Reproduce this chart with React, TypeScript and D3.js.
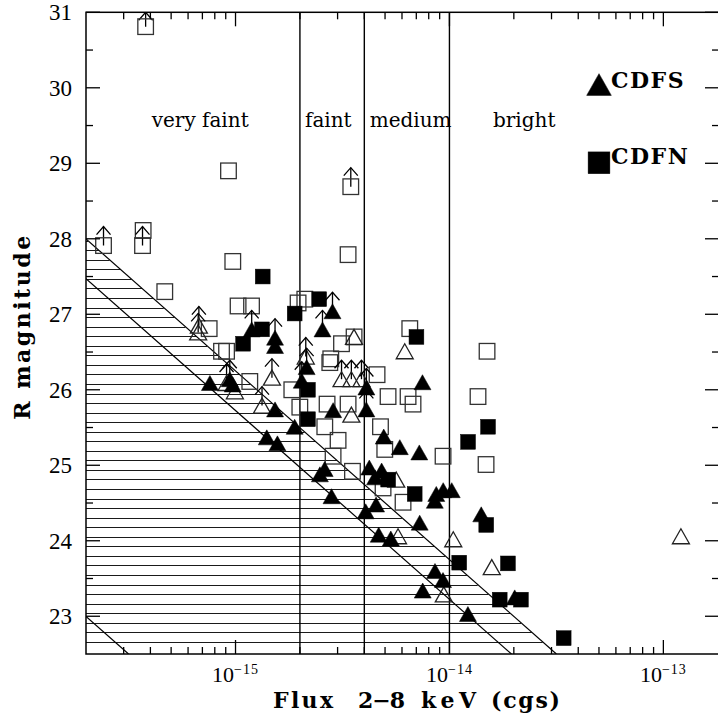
import React from 'react';
import * as d3 from 'd3';

const WIDTH = 718;
const HEIGHT = 723;

// Flux (2-8 keV) in units of 1e-15 erg cm^-2 s^-1, R magnitude, 1 = upper limit on optical flux (arrow)
const cdfsFilled: number[][] = [
  [1.19, 26.80, 1], [1.53, 26.69, 1], [1.53, 26.58, 0], [2.84, 27.04, 1], [2.55, 26.80, 1],
  [2.15, 26.30, 1], [2.04, 26.12, 1], [0.759, 26.09, 0], [0.94, 26.14, 1], [0.97, 26.07, 0],
  [1.53, 25.74, 0], [1.89, 25.51, 0], [1.40, 25.37, 0], [1.57, 25.29, 0], [2.86, 25.73, 0],
  [4.09, 26.03, 1], [4.09, 25.74, 1], [7.48, 26.10, 0], [4.93, 25.38, 0], [5.86, 25.24, 0],
  [7.23, 25.17, 0], [2.61, 24.95, 0], [2.48, 24.88, 0], [2.81, 24.59, 0], [4.22, 24.97, 0],
  [4.82, 24.93, 0], [4.49, 24.84, 0], [4.06, 24.39, 0], [4.54, 24.48, 0], [8.68, 24.62, 0],
  [9.35, 24.67, 0], [10.25, 24.67, 0], [8.54, 24.53, 0], [7.26, 24.24, 0], [4.67, 24.08, 0],
  [5.32, 24.03, 0], [14.08, 24.35, 0], [8.56, 23.60, 0], [9.33, 23.48, 0], [7.50, 23.34, 0],
  [20.19, 23.25, 0], [12.20, 23.03, 0],
];

const cdfsOpen: number[][] = [
  [0.669, 26.76, 1], [0.674, 26.85, 1], [0.908, 26.09, 1], [0.993, 25.98, 0], [1.48, 26.16, 1],
  [1.33, 25.79, 1], [3.58, 26.70, 0], [3.13, 26.14, 1], [3.48, 26.14, 1], [3.88, 26.14, 1],
  [3.48, 25.67, 0], [6.18, 26.51, 0], [5.64, 24.81, 0], [5.75, 24.06, 0], [10.42, 24.02, 0],
  [15.77, 23.65, 0], [9.41, 23.29, 0], [120.8, 24.06, 0], [2.13, 26.44, 1],
];

const cdfnFilled: number[][] = [
  [1.34, 27.50, 0], [1.89, 27.01, 0], [2.46, 27.20, 0], [1.33, 26.80, 0], [1.085, 26.61, 0],
  [2.18, 26.00, 0], [2.18, 25.61, 0], [7.01, 26.70, 0], [5.17, 24.81, 0], [6.88, 24.62, 0],
  [15.15, 25.51, 0], [12.22, 25.31, 0], [14.86, 24.21, 0], [11.11, 23.71, 0], [18.77, 23.70, 0],
  [17.18, 23.22, 0], [21.58, 23.22, 0], [34.2, 22.71, 0],
];

const cdfnOpen: number[][] = [
  [0.380, 30.81, 1], [0.927, 28.90, 0], [0.2415, 27.91, 1], [0.370, 28.11, 0], [0.3675, 27.91, 1],
  [0.467, 27.30, 0], [0.971, 27.70, 0], [1.028, 27.11, 0], [1.188, 27.11, 0], [0.753, 26.81, 0],
  [0.860, 26.51, 0], [0.908, 26.51, 0], [1.961, 27.15, 0], [2.108, 27.20, 0], [3.359, 27.79, 0],
  [3.458, 28.69, 1], [3.129, 26.61, 0], [3.583, 26.70, 0], [2.788, 26.41, 0], [6.525, 26.81, 0],
  [1.166, 26.11, 0], [1.833, 26.00, 0], [1.998, 25.77, 0], [2.759, 26.36, 0], [4.588, 26.20, 0],
  [2.679, 25.81, 0], [3.359, 25.81, 0], [5.165, 25.91, 0], [6.406, 25.91, 0], [6.757, 25.81, 0],
  [2.614, 25.51, 0], [3.016, 25.33, 0], [2.858, 25.12, 0], [4.760, 25.51, 0], [4.985, 25.21, 0],
  [3.521, 24.92, 0], [4.894, 24.70, 0], [6.069, 24.51, 0], [9.335, 25.12, 0], [14.99, 26.51, 0],
  [13.60, 25.91, 0], [14.83, 25.01, 0],
];

// flux class boundaries (1e-15 cgs)
const classBounds = [2, 4, 10];
const classLabels = ['very faint', 'faint', 'medium', 'bright'];
const classLabelX = [151.7, 305, 369.7, 493];
// log(fx/fo) lines
const ratioLines = [1, 0.79, -1];
const xTickExps = [-15, -14, -13];
const yTicks = [23, 24, 25, 26, 27, 28, 29, 30, 31];
const legendNames = ['CDFS', 'CDFN'];
const xTitleWords = ['Flux', '2−8', 'keV', '(cgs)'];
const xTitleSpans = [[273, 60], [358, 47], [421, 55], [491, 69]];

const x = d3.scaleLog().domain([0.2, 182]).range([86, 719]);
const y = d3.scaleLinear().domain([22.5, 31]).range([654, 12.3]);

const L = 86, R = 719, T = 12.3, B = 654;
const rOfLine = (ratio: number, f: number) => 2.5 * (ratio + 9.5) - 2.5 * Math.log10(f);
const fOfLine = (ratio: number, r: number) => Math.pow(10, (2.5 * (ratio + 9.5) - r) / 2.5);

function Arrow({ cx, cy }: { cx: number; cy: number }) {
  const top = Math.max(T, cy - 19);
  return (
    <g stroke="#000" strokeWidth={1.3} fill="none">
      <line x1={cx} y1={cy} x2={cx} y2={top} />
      <polyline points={`${cx - 7},${top + 8} ${cx},${top} ${cx + 7},${top + 8}`} />
    </g>
  );
}

function Tri({ cx, cy, filled, s = 1 }: { cx: number; cy: number; filled: boolean; s?: number }) {
  const hw = 8.5 * s, hh = 7.5 * s;
  return (
    <polygon
      points={`${cx},${cy - hh} ${cx - hw},${cy + hh} ${cx + hw},${cy + hh}`}
      fill={filled ? '#000' : 'none'}
      stroke={filled ? '#000' : '#222'}
      strokeWidth={filled ? 0.5 : 1.3}
    />
  );
}

function Sq({ cx, cy, filled, s = 1 }: { cx: number; cy: number; filled: boolean; s?: number }) {
  const h = (filled ? 7.4 : 7.8) * s;
  return (
    <rect x={cx - h} y={cy - h} width={2 * h} height={2 * h}
      fill={filled ? '#000' : 'none'} stroke={filled ? '#000' : '#333'} strokeWidth={filled ? 0.5 : 1.3} />
  );
}

export default function App() {
  const hatchR: number[] = [];
  for (let k = 0; k <= 42; k++) hatchR.push(22.661 + k * 0.1265);

  const minorX: number[] = [];
  [0.1, 1, 10, 100].forEach((d) => {
    for (let m = 2; m <= 9; m++) {
      const v = d * m;
      if (v > 0.2 && v < 182) minorX.push(v);
    }
  });
  const minorY = d3.range(23.5, 31, 1);

  const serif = 'DejaVu Serif';
  const numFont = 'Liberation Serif';

  const renderSet = (data: number[][], kind: 'tri' | 'sq', filled: boolean, key: string) =>
    data.map((d, i) => {
      const cx = x(d[0]);
      const cy = y(d[1]);
      return (
        <g key={`${key}${i}`}>
          {d[2] ? <Arrow cx={cx} cy={cy} /> : null}
          {kind === 'tri' ? <Tri cx={cx} cy={cy} filled={filled} /> : <Sq cx={cx} cy={cy} filled={filled} />}
        </g>
      );
    });

  return (
    <svg width={WIDTH} height={HEIGHT} style={{ position: 'absolute', left: 0, top: 0, background: '#fff' }}>
      <rect x={0} y={0} width={WIDTH} height={HEIGHT} fill="#fff" />
      <defs>
        <clipPath id="plot">
          <rect x={L} y={T} width={R - L} height={B - T} />
        </clipPath>
      </defs>
      {/* hatching */}
      <g stroke="#1a1a1a" strokeWidth={1}>
        {hatchR.map((r, i) => (
          <line key={i} x1={L} x2={x(fOfLine(ratioLines[0], r))} y1={Math.round(y(r)) + 0.5} y2={Math.round(y(r)) + 0.5} />
        ))}
      </g>
      {/* diagonal lines */}
      <g stroke="#000" strokeWidth={1.2} clipPath="url(#plot)">
        {ratioLines.map((rl, i) => (
          <line key={i} x1={x(0.2)} y1={y(rOfLine(rl, 0.2))} x2={x(fOfLine(rl, 22.5))} y2={y(22.5)} />
        ))}
      </g>
      {/* class boundaries */}
      <g stroke="#000" strokeWidth={1.4}>
        {classBounds.map((b, i) => (
          <line key={i} x1={x(b)} x2={x(b)} y1={T} y2={B} />
        ))}
      </g>
      {/* class labels */}
      <g fontFamily={serif} fontSize={20} fill="#000">
        {classLabels.map((t, i) => (
          <text key={i} x={classLabelX[i]} y={126.5}>{t}</text>
        ))}
      </g>
      {/* data */}
      <g clipPath="url(#plot)">
        {renderSet(cdfnOpen, 'sq', false, 'no')}
        {renderSet(cdfsOpen, 'tri', false, 'so')}
        {renderSet(cdfnFilled, 'sq', true, 'nf')}
        {renderSet(cdfsFilled, 'tri', true, 'sf')}
      </g>
      {/* legend */}
      <Tri cx={599} cy={84.5} filled={true} s={1.45} />
      <Sq cx={599} cy={162.8} filled={true} s={1.47} />
      <g fontFamily={serif} fontSize={22} fontWeight="bold" letterSpacing={1.5}>
        <text x={611} y={88.3}>{legendNames[0]}</text>
        <text x={611} y={164}>{legendNames[1]}</text>
      </g>
      {/* frame */}
      <rect x={L} y={T} width={R - L} height={B - T} fill="none" stroke="#000" strokeWidth={1.5} />
      {/* ticks */}
      <g stroke="#000" strokeWidth={1.3}>
        {xTickExps.map((e, i) => {
          const xx = x(Math.pow(10, e + 15));
          return (
            <g key={i}>
              <line x1={xx} x2={xx} y1={B} y2={B - 14} />
              <line x1={xx} x2={xx} y1={T} y2={T + 14} />
            </g>
          );
        })}
        {minorX.map((v, i) => (
          <g key={i}>
            <line x1={x(v)} x2={x(v)} y1={B} y2={B - 7} />
            <line x1={x(v)} x2={x(v)} y1={T} y2={T + 7} />
          </g>
        ))}
        {yTicks.map((v, i) => (
          <g key={i}>
            <line x1={L} x2={L + 14} y1={y(v)} y2={y(v)} />
            <line x1={R} x2={R - 14} y1={y(v)} y2={y(v)} />
          </g>
        ))}
        {minorY.map((v, i) => (
          <g key={i}>
            <line x1={L} x2={L + 7} y1={y(v)} y2={y(v)} />
            <line x1={R} x2={R - 7} y1={y(v)} y2={y(v)} />
          </g>
        ))}
      </g>
      {/* tick labels */}
      <g fontFamily={numFont} fill="#000">
        {yTicks.map((v, i) => (
          <text key={i} x={72} y={y(v) + 8} fontSize={23} textAnchor="end">{v}</text>
        ))}
        {xTickExps.map((e, i) => (
          <text key={i} x={x(Math.pow(10, e + 15))} y={682} fontSize={22} textAnchor="middle">
            10<tspan dy={-8} fontSize={14} letterSpacing={1}>{`−${Math.abs(e)}`}</tspan>
          </text>
        ))}
      </g>
      {/* axis titles */}
      <g fontFamily={serif} fontWeight="bold" fontSize={22}>
        {xTitleWords.map((w, i) => (
          <text key={i} x={xTitleSpans[i][0]} y={708} textLength={xTitleSpans[i][1]} lengthAdjust="spacing">{w}</text>
        ))}
      </g>
      <text
        transform={`translate(30,326.5) rotate(-90)`}
        textAnchor="middle"
        fontFamily={serif}
        fontWeight="bold"
        fontSize={22}
        letterSpacing={2.5}
      >
        R magnitude
      </text>
    </svg>
  );
}
